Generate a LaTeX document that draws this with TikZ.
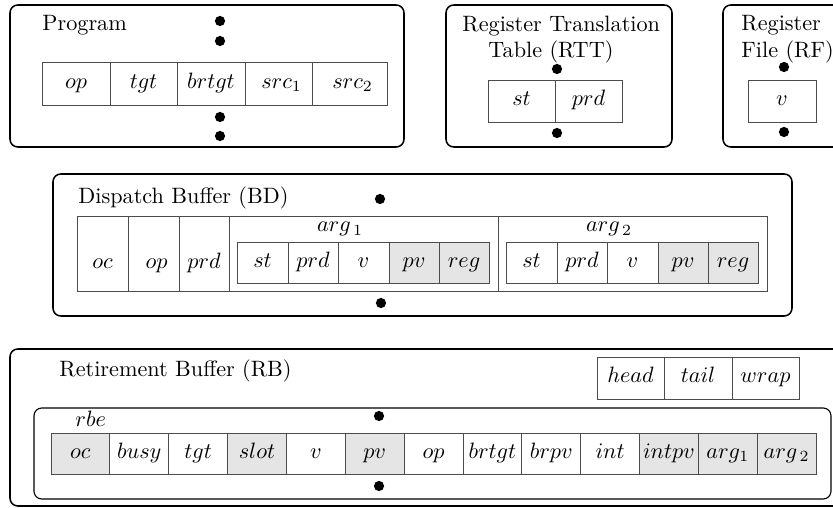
\documentclass[tikz,border=0pt]{standalone}
\definecolor{cellshade}{gray}{0.9}
\tikzset{
  % a box given by its corners (x1,y1) and (x2,y2), in the picture's units
  span/.style n args={4}{
    minimum width={((#3)-(#1))*0.45pt}, minimum height={((#4)-(#2))*0.45pt},
    at={({((#1)+(#3))/2},{((#2)+(#4))/2})}},
  panel/.style={draw=black, line width=0.7pt, rounded corners=3.5pt, inner sep=0pt},
  subpanel/.style={draw=black, line width=0.5pt, rounded corners=3.5pt, inner sep=0pt},
  cell/.style={draw=black!70, line width=0.4pt, inner sep=0pt, text height=6.5pt, text depth=2pt},
  % tall cell whose text sits level with the nested fields beside it
  lowcell/.style={cell, text height=15.5pt},
  shaded/.style={cell, fill=cellshade},
  dot/.style={circle, fill=black, inner sep=0pt, minimum size=4.6pt},
  title/.style={inner sep=0pt, anchor=base west},
  sublabel/.style={inner sep=0pt, anchor=base},
}
\begin{document}
\begin{tikzpicture}[x=0.45pt, y=-0.45pt]
\useasboundingbox (0,0) rectangle (833,508);
\clip (0,0) rectangle (833,508);

% ---------- Program ----------
\node[panel, span={10}{5}{404}{147}] (prog) {};
\node[title] (progtitle) at (42,31) {Program};
\node[cell, span={42}{62}{110}{105}] (pop) {$op$};
\node[cell, span={110}{62}{177}{105}] (ptgt) {$tgt$};
\node[cell, span={177}{62}{245}{105}] (pbrtgt) {$brtgt$};
\node[cell, span={245}{62}{312}{105}] (psrca) {$\;src_1$};
\node[cell, span={312}{62}{387}{105}] (psrcb) {$\;src_2$};
\node[dot] (pd1) at (220,21) {};
\node[dot] (pd2) at (220,41) {};
\node[dot] (pd3) at (220,117) {};
\node[dot] (pd4) at (220,136) {};

% ---------- Register Translation Table ----------
\node[panel, span={446}{5}{672}{147}] (rtt) {};
\node[title] (rtttitlea) at (462,32) {Register Translation};
\node[title] (rtttitleb) at (488,58) {Table (RTT)};
\node[cell, span={488}{80}{555}{122}] (rttst) {$st$};
\node[cell, span={555}{80}{622}{122}] (rttprd) {$prd$};
\node[dot] (rttd1) at (557,69) {};
\node[dot] (rttd2) at (557,133) {};

% ---------- Register File ----------
\node[panel, span={723}{5}{870}{147}] (rf) {};
\node[title] (rftitlea) at (741,31) {Register};
\node[title] (rftitleb) at (741,58) {File (RF)};
\node[cell, span={748}{80}{816}{122}] (rfv) {$v$};
\node[dot] (rfd1) at (784,67) {};
\node[dot] (rfd2) at (784,132) {};

% ---------- Dispatch Buffer ----------
\node[panel, span={53}{174}{792}{316}] (db) {};
\node[title] (dbtitle) at (78,204) {Dispatch Buffer (BD)};
\node[lowcell, span={77}{216}{128}{291}] (dboc) {$oc$};
\node[lowcell, span={128}{216}{179}{291}] (dbop) {$\;op$};
\node[lowcell, span={179}{216}{229}{291}] (dbprd) {$prd$};
\node[cell, span={229}{216}{498}{291}] (dbarga) {};
\node[cell, span={498}{216}{767}{291}] (dbargb) {};
\node[sublabel] (dbargalab) at (340,232) {$arg_{\,1}$};
\node[sublabel] (dbargblab) at (609,232) {$arg_{\,2}$};
% first argument fields
\node[cell, span={237}{242}{288}{283}] (aast) {$st$};
\node[cell, span={288}{242}{338}{283}] (aaprd) {$prd$};
\node[cell, span={338}{242}{389}{283}] (aav) {$v$};
\node[shaded, span={389}{242}{439}{283}] (aapv) {$pv$};
\node[shaded, span={439}{242}{489}{283}] (aareg) {$reg$};
% second argument fields
\node[cell, span={506}{242}{557}{283}] (abst) {$st$};
\node[cell, span={557}{242}{607}{283}] (abprd) {$prd$};
\node[cell, span={607}{242}{658}{283}] (abv) {$v$};
\node[shaded, span={658}{242}{708}{283}] (abpv) {$pv$};
\node[shaded, span={708}{242}{758}{283}] (abreg) {$reg$};
\node[dot] (dbd1) at (380,199) {};
\node[dot] (dbd2) at (381,303) {};

% ---------- Retirement Buffer ----------
\node[panel, span={10}{349}{870}{506}] (rb) {};
\node[title] (rbtitle) at (59,377) {Retirement Buffer (RB)};
\node[cell, span={597}{357}{664}{399}] (rbhead) {$head$};
\node[cell, span={664}{357}{732}{399}] (rbtail) {$tail$};
\node[cell, span={732}{357}{799}{399}] (rbwrap) {$wrap$};
\node[subpanel, span={34}{408}{831}{499}] (rbe) {};
\node[title] (rbelab) at (75,427) {$rbe$};
\foreach \lab/\sty [count=\i from 0] in {
    oc/shaded, busy/cell, tgt/cell, slot/shaded, v/cell, pv/shaded, op/cell,
    brtgt/cell, brpv/cell, int/cell, intpv/shaded, arg_1/shaded, arg_{\,2}/shaded} {
  \node[\sty, span={51+\i*58.85}{433}{51+(\i+1)*58.85}{474}] (rbf\i) {$\lab$};
}
\node[dot] (rbd1) at (379,416) {};
\node[dot] (rbd2) at (379,486) {};
\end{tikzpicture}
\end{document}
